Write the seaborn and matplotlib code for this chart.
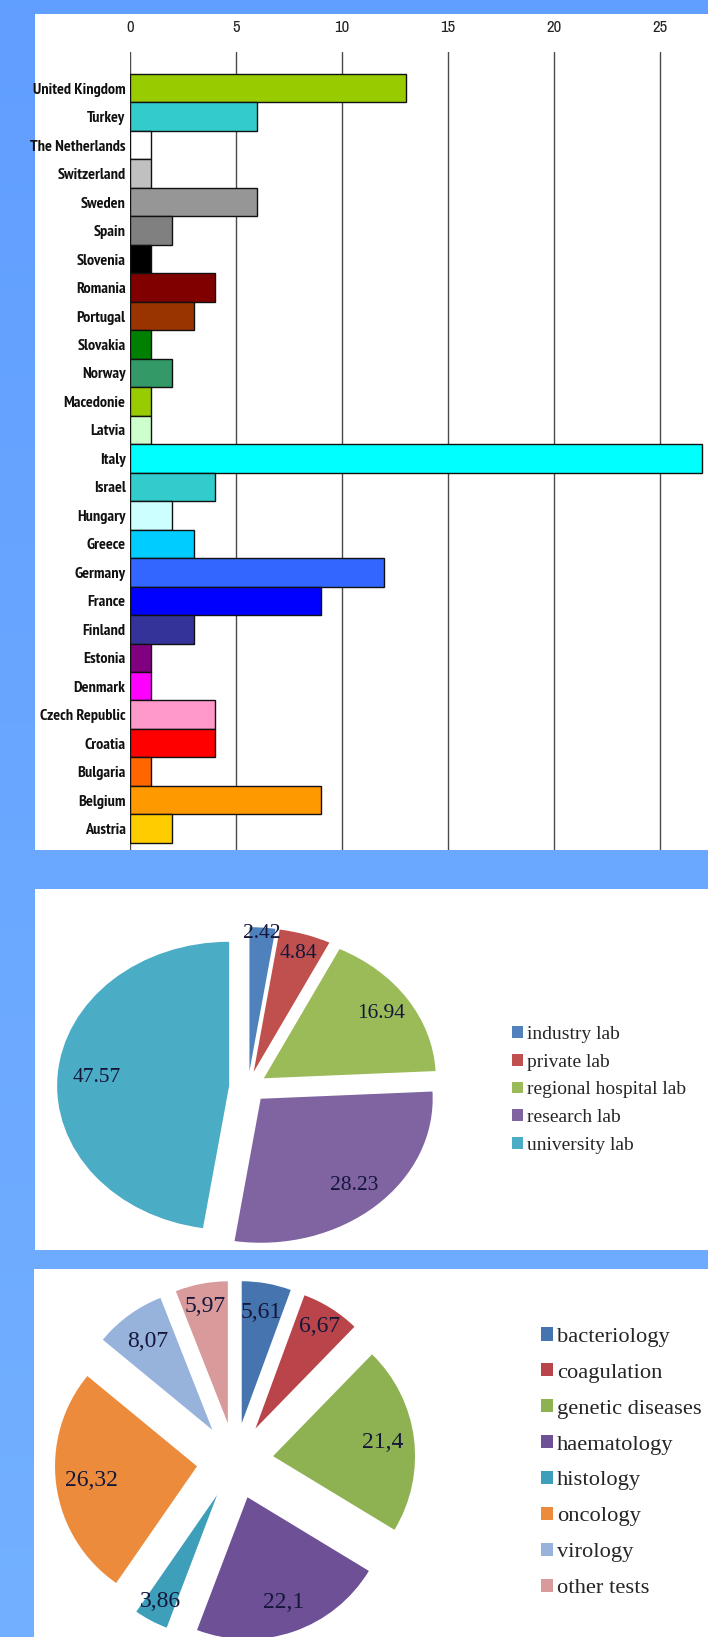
import numpy as np
import pandas as pd
import matplotlib
matplotlib.use("Agg")
import matplotlib.pyplot as plt
from matplotlib import font_manager
from matplotlib.font_manager import FontProperties
from matplotlib.patches import Rectangle
import seaborn as sns

# ---------------- data ----------------
countries = [
    "United Kingdom", "Turkey", "The Netherlands", "Switzerland", "Sweden",
    "Spain", "Slovenia", "Romania", "Portugal", "Slovakia", "Norway",
    "Macedonie", "Latvia", "Italy", "Israel", "Hungary", "Greece", "Germany",
    "France", "Finland", "Estonia", "Denmark", "Czech Republic", "Croatia",
    "Bulgaria", "Belgium", "Austria",
]
lab_counts = [13, 6, 1, 1, 6, 2, 1, 4, 3, 1, 2, 1, 1, 27, 4, 2, 3, 12, 9, 3,
              1, 1, 4, 4, 1, 9, 2]
country_colors = [
    "#99CC00", "#33CCCC", "#FFFFFF", "#C0C0C0", "#969696", "#808080",
    "#000000", "#800000", "#993300", "#008000", "#339966", "#99CC00",
    "#CCFFCC", "#00FFFF", "#33CCCC", "#CCFFFF", "#00CCFF", "#3366FF",
    "#0000FF", "#333399", "#800080", "#FF00FF", "#FF99CC", "#FF0000",
    "#FF6600", "#FF9900", "#FFCC00",
]
count_ticks = [0, 5, 10, 15, 20, 25]

lab_types = ["industry lab", "private lab", "regional hospital lab",
             "research lab", "university lab"]
lab_shares = [2.42, 4.84, 16.94, 28.23, 47.57]
lab_share_labels = ["2.42", "4.84", "16.94", "28.23", "47.57"]
lab_colors = ["#4F81BD", "#C0504D", "#9BBB59", "#8064A2", "#4BACC6"]

test_types = ["bacteriology", "coagulation", "genetic diseases", "haematology",
              "histology", "oncology", "virology", "other tests"]
test_shares = [5.61, 6.67, 21.4, 22.1, 3.86, 26.32, 8.07, 5.97]
test_share_labels = ["5,61", "6,67", "21,4", "22,1", "3,86", "26,32", "8,07", "5,97"]
test_colors = ["#4674AE", "#B9454A", "#8EB152", "#6E5096", "#3E9FBA",
               "#EC8B3C", "#97B3DC", "#D99A9B"]

# ---------------- fonts ----------------
sns.set_theme(style="white")
installed = {f.name for f in font_manager.fontManager.ttflist}
serif = "Liberation Serif" if "Liberation Serif" in installed else "DejaVu Serif"


def pick_condensed(bold):
    """Return a FontProperties for a narrow sans face, or None."""
    best = None
    for f in font_manager.fontManager.ttflist:
        fn = f.fname.lower()
        narrowish = (f.stretch not in ("normal", 500, "medium")) or \
            "condensed" in fn or "narrow" in fn
        if not narrowish or "mono" in fn or "serif" in fn.replace("sans", ""):
            continue
        if "italic" in fn or "oblique" in fn or "extra" in fn or "ultra" in fn:
            continue
        w = f.weight if isinstance(f.weight, int) else (700 if "bold" in str(f.weight) else 400)
        is_bold = w >= 600
        if is_bold != bold:
            continue
        score = 0
        if "narrow" in fn:
            score += 3
        if "dejavu" in fn:
            score += 2
        if "semi" in fn:
            score -= 1
        if best is None or score > best[0]:
            best = (score, f.fname)
    return FontProperties(fname=best[1]) if best else None


label_fp = pick_condensed(True)
tick_fp = pick_condensed(False)
label_size = 11.6
tick_size = 12
if label_fp is None:
    label_fp = FontProperties(family="Liberation Sans", weight="bold")
    label_size = 8.6
if tick_fp is None:
    tick_fp = FontProperties(family="Liberation Sans")
    tick_size = 9.5

W, H = 708, 1637
fig = plt.figure(figsize=(W / 100, H / 100), dpi=100)


def box(x0, y0, x1, y1):
    """Figure-fraction rectangle from pixel edges (y measured downward)."""
    return [x0 / W, 1 - y1 / H, (x1 - x0) / W, (y1 - y0) / H]


# blue backdrop with a soft vertical shade
bg = fig.add_axes([0, 0, 1, 1], zorder=-10)
shade = np.linspace(0, 1, 256)[:, None]
top_c = np.array([0.38, 0.62, 1.0])
bot_c = np.array([0.45, 0.69, 1.0])
grad = top_c[None, None, :] * (1 - shade[..., None]) + bot_c[None, None, :] * shade[..., None]
bg.imshow(grad, aspect="auto", extent=[0, 1, 0, 1])
bg.axis("off")

# white panels
for (x0, y0, x1, y1) in [(35, 14, 708, 850), (35, 889, 708, 1250), (34, 1269, 708, 1637)]:
    fig.add_artist(Rectangle((x0 / W, 1 - y1 / H), (x1 - x0) / W, (y1 - y0) / H,
                             transform=fig.transFigure, facecolor="white",
                             edgecolor="none", zorder=-5))

# ---------------- bar chart ----------------
ax = fig.add_axes(box(130, 52, 708, 850))
ax.set_facecolor("none")
df = pd.DataFrame({"country": countries, "labs": lab_counts})
sns.barplot(data=df, x="labs", y="country", hue="country",
            palette=dict(zip(countries, country_colors)), legend=False,
            orient="h", width=1.0, saturation=1, edgecolor="#111111",
            linewidth=1.0, ax=ax, zorder=3)
ax.set_xlim(0, (708 - 130) / 21.2)
ax.set_ylim(len(countries) - 0.25, -1.27)
ax.set_xticks(count_ticks)
ax.xaxis.tick_top()
ax.tick_params(axis="x", length=0, pad=12)
ax.tick_params(axis="y", length=0, pad=3.2)
for lbl in ax.get_xticklabels():
    lbl.set_fontproperties(tick_fp)
    lbl.set_fontsize(tick_size)
    lbl.set_color("#222222")
for lbl in ax.get_yticklabels():
    lbl.set_fontproperties(label_fp)
    lbl.set_fontsize(label_size)
    lbl.set_color("#111111")
ax.grid(False)
for x in count_ticks:
    ax.axvline(x, color="#4a4a4a", linewidth=1.0, zorder=1)
for s in ax.spines.values():
    s.set_visible(False)
ax.set_xlabel("")
ax.set_ylabel("")

# ---------------- pie: type of laboratory ----------------
k = 1.45
cx, cy, rx, ry = 248, 1087, 172, 144
ax1 = fig.add_axes(box(cx - k * rx, cy - k * ry, cx + k * rx, cy + k * ry))
wedges1, _ = ax1.pie(lab_shares, colors=lab_colors, startangle=90,
                     counterclock=False, explode=[0.11] * len(lab_shares),
                     wedgeprops=dict(linewidth=0))
ax1.set_aspect("auto")
ax1.set_xlim(-k, k)
ax1.set_ylim(-k, k)
ax1.axis("off")
lab_label_r = [0.96, 0.86, 0.82, 0.81, 0.77]
for w, txt, r in zip(wedges1, lab_share_labels, lab_label_r):
    th = np.deg2rad((w.theta1 + w.theta2) / 2)
    x0, y0 = w.center
    ax1.text(x0 + r * np.cos(th), y0 + r * np.sin(th), txt, ha="center",
             va="center", fontsize=15.5, family=serif, color="#15173a")
fig.legend(wedges1, lab_types, loc="upper left",
           bbox_to_anchor=(512 / W, 1 - 1026 / H), frameon=False,
           prop=dict(family=serif, size=14), handlelength=0.55,
           handleheight=0.55, handletextpad=0.2, labelspacing=0.55,
           borderpad=0, borderaxespad=0)

# ---------------- pie: type of test ----------------
cx2, cy2, r2 = 235, 1461, 142
ax2 = fig.add_axes(box(cx2 - k * r2, cy2 - k * r2, cx2 + k * r2, cy2 + k * r2))
wedges2, _ = ax2.pie(test_shares, colors=test_colors, startangle=90,
                     counterclock=False, explode=[0.27] * len(test_shares),
                     wedgeprops=dict(linewidth=0))
ax2.set_aspect("auto")
ax2.set_xlim(-k, k)
ax2.set_ylim(-k, k)
ax2.axis("off")
test_label_r = [0.79, 0.85, 0.78, 0.78, 0.85, 0.75, 0.77, 0.84]
for w, txt, r in zip(wedges2, test_share_labels, test_label_r):
    th = np.deg2rad((w.theta1 + w.theta2) / 2)
    x0, y0 = w.center
    ax2.text(x0 + r * np.cos(th), y0 + r * np.sin(th), txt, ha="center",
             va="center", fontsize=17, family=serif, color="#15173a")
fig.legend(wedges2, test_types, loc="upper left",
           bbox_to_anchor=(541 / W, 1 - 1327 / H), frameon=False,
           prop=dict(family=serif, size=16.2), handlelength=0.55,
           handleheight=0.55, handletextpad=0.15, labelspacing=0.72,
           borderpad=0, borderaxespad=0)

fig.savefig("out.png", dpi=100)
